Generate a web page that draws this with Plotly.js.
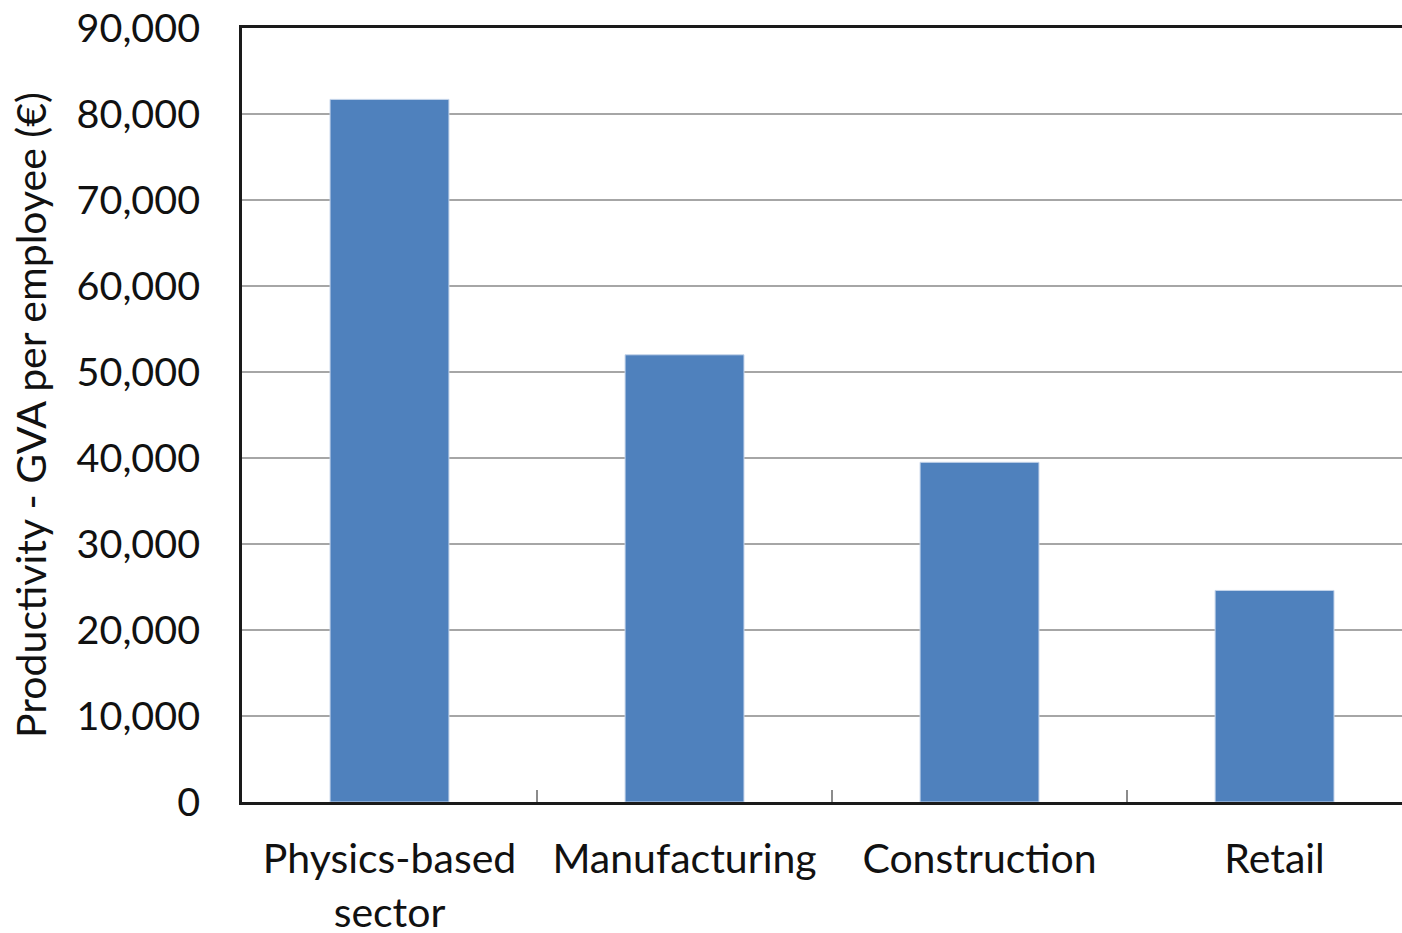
<!DOCTYPE html>
<html>
<head>
<meta charset="utf-8">
<script src="https://cdn.plot.ly/plotly-3.0.1.min.js"></script>
<style>
  html, body { margin: 0; padding: 0; background: #fff; overflow: hidden; }
  #chart { width: 1402px; height: 933px; }
</style>
</head>
<body>
<div id="chart"></div>
<script>
// Productivity (gross value added per employee, EUR) by sector
const sectors = ['Physics-based<br>sector', 'Manufacturing', 'Construction', 'Retail'];
const gvaPerEmployee = [81700, 52000, 39500, 24600];
const yTickValues = [0, 10000, 20000, 30000, 40000, 50000, 60000, 70000, 80000, 90000];

const FONT = 'Lato, "Open Sans", sans-serif';

const trace = {
  type: 'bar',
  x: sectors,
  y: gvaPerEmployee,
  marker: { color: '#4f81bd', line: { color: '#c5d4ea', width: 1 } },
  hoverinfo: 'x+y'
};

const layout = {
  width: 1402,
  height: 933,
  margin: { l: 242, r: 0, t: 28, b: 131 },
  paper_bgcolor: '#ffffff',
  plot_bgcolor: '#ffffff',
  showlegend: false,
  bargap: 0.597,
  font: { family: FONT, size: 36, color: '#000' },
  xaxis: {
    type: 'category',
    range: [-0.5, 3.432],
    tickson: 'boundaries',
    ticks: 'inside',
    ticklen: 12,
    tickwidth: 1.5,
    tickcolor: '#8c8c8c',
    showgrid: false,
    showline: true,
    linecolor: '#1a1a1a',
    linewidth: 3,
    mirror: true,
    tickfont: { family: FONT, size: 41, color: '#111' },
    ticklabelstandoff: 19,
    fixedrange: true
  },
  yaxis: {
    range: [0, 90000],
    tickvals: yTickValues,
    tickformat: ',d',
    ticks: '',
    showgrid: true,
    gridcolor: '#a6a6a6',
    gridwidth: 1.5,
    zeroline: false,
    showline: true,
    linecolor: '#1a1a1a',
    linewidth: 3,
    tickfont: { family: FONT, size: 39.5, color: '#111' },
    ticklabelstandoff: 31,
    title: {
      text: 'Productivity - GVA per employee (€)',
      font: { family: FONT, size: 41, color: '#111' },
      standoff: 18
    },
    fixedrange: true
  }
};

Plotly.newPlot('chart', [trace], layout, { displayModeBar: false, staticPlot: true });
</script>
</body>
</html>
